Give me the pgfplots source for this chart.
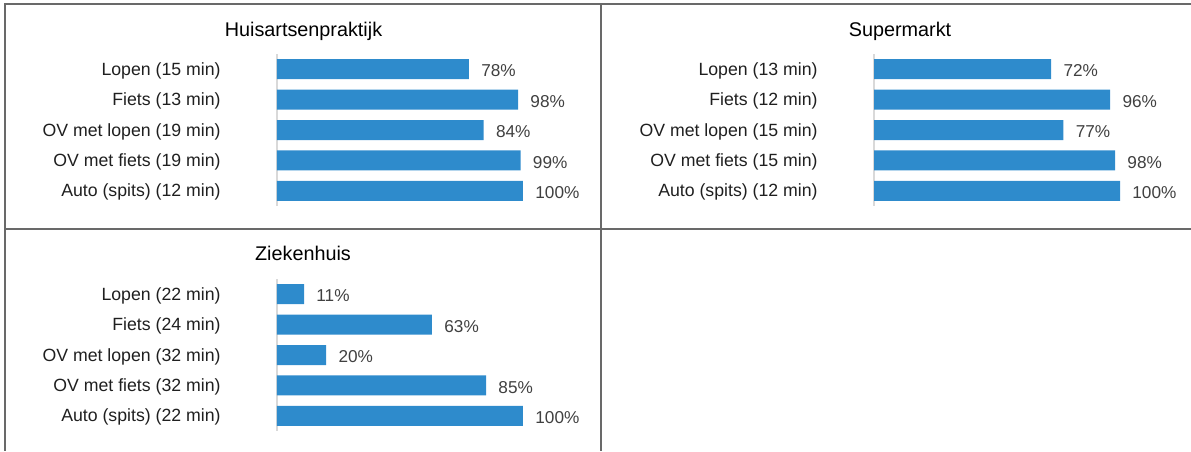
\documentclass[border=0pt]{standalone}
\usepackage{fontspec}
\setmainfont{Liberation Sans}
\usepackage{pgfplots}
\pgfplotsset{compat=1.18}
\definecolor{barblue}{RGB}{46,139,204}
\definecolor{valgray}{RGB}{64,64,64}
\definecolor{framegray}{RGB}{105,105,105}

\pgfplotsset{
  panel/.style={
    xbar, scale only axis, width=123pt, height=76pt,
    xmin=0, xmax=100, ymin=-0.5, ymax=4.5, y dir=reverse,
    /pgf/number format/assume math mode=true,
    axis x line=none, axis y line*=left,
    y axis line style={draw=black!15, line width=0.9pt, -},
    ytick={0,...,4}, major tick length=0pt, ytick style={draw=none},
    yticklabel style={font=\fontsize{8.85}{10}\selectfont, text=black!88, inner sep=0pt, xshift=-28pt, yshift=-0.8pt},
    bar width=10pt, clip=false,
    nodes near coords={\pgfmathprintnumber[assume math mode=true]{\pgfplotspointmeta}\%},
    nodes near coords style={font=\fontsize{8.6}{10}\selectfont, text=valgray, anchor=west, inner sep=0pt, xshift=6pt, yshift=-0.9pt},
  },
}

\begin{document}
\begin{tikzpicture}
\useasboundingbox (0,0) rectangle (595.5pt,225.5pt);

% Huisartsenpraktijk
\begin{axis}[panel, at={(138.5pt,122.5pt)}, anchor=south west,
  yticklabels={Lopen (15 min), Fiets (13 min), OV met lopen (19 min), OV met fiets (19 min), Auto (spits) (12 min)}]
\addplot[fill=barblue, draw=none] coordinates {(78,0) (98,1) (84,2) (99,3) (100,4)};
\end{axis}

% Supermarkt
\begin{axis}[panel, at={(437pt,122.5pt)}, anchor=south west,
  yticklabels={Lopen (13 min), Fiets (12 min), OV met lopen (15 min), OV met fiets (15 min), Auto (spits) (12 min)}]
\addplot[fill=barblue, draw=none] coordinates {(72,0) (96,1) (77,2) (98,3) (100,4)};
\end{axis}

% Ziekenhuis
\begin{axis}[panel, at={(138.5pt,10pt)}, anchor=south west,
  yticklabels={Lopen (22 min), Fiets (24 min), OV met lopen (32 min), OV met fiets (32 min), Auto (spits) (22 min)}]
\addplot[fill=barblue, draw=none] coordinates {(11,0) (63,1) (20,2) (85,3) (100,4)};
\end{axis}

\node[anchor=base, inner sep=0pt, font=\fontsize{9.9}{12}\selectfont] at (151.75pt,207.5pt) {Huisartsenpraktijk};
\node[anchor=base, inner sep=0pt, font=\fontsize{9.9}{12}\selectfont] at (450pt,207.5pt) {Supermarkt};
\node[anchor=base, inner sep=0pt, font=\fontsize{9.9}{12}\selectfont] at (151.5pt,95.2pt) {Ziekenhuis};

\draw[framegray, line width=1pt] (595.5pt,223.5pt) -- (2.5pt,223.5pt) -- (2.5pt,0pt);
\draw[framegray, line width=1pt] (300.5pt,223.5pt) -- (300.5pt,0pt);
\draw[framegray, line width=1pt] (2.5pt,111pt) -- (595.5pt,111pt);
\end{tikzpicture}
\end{document}
